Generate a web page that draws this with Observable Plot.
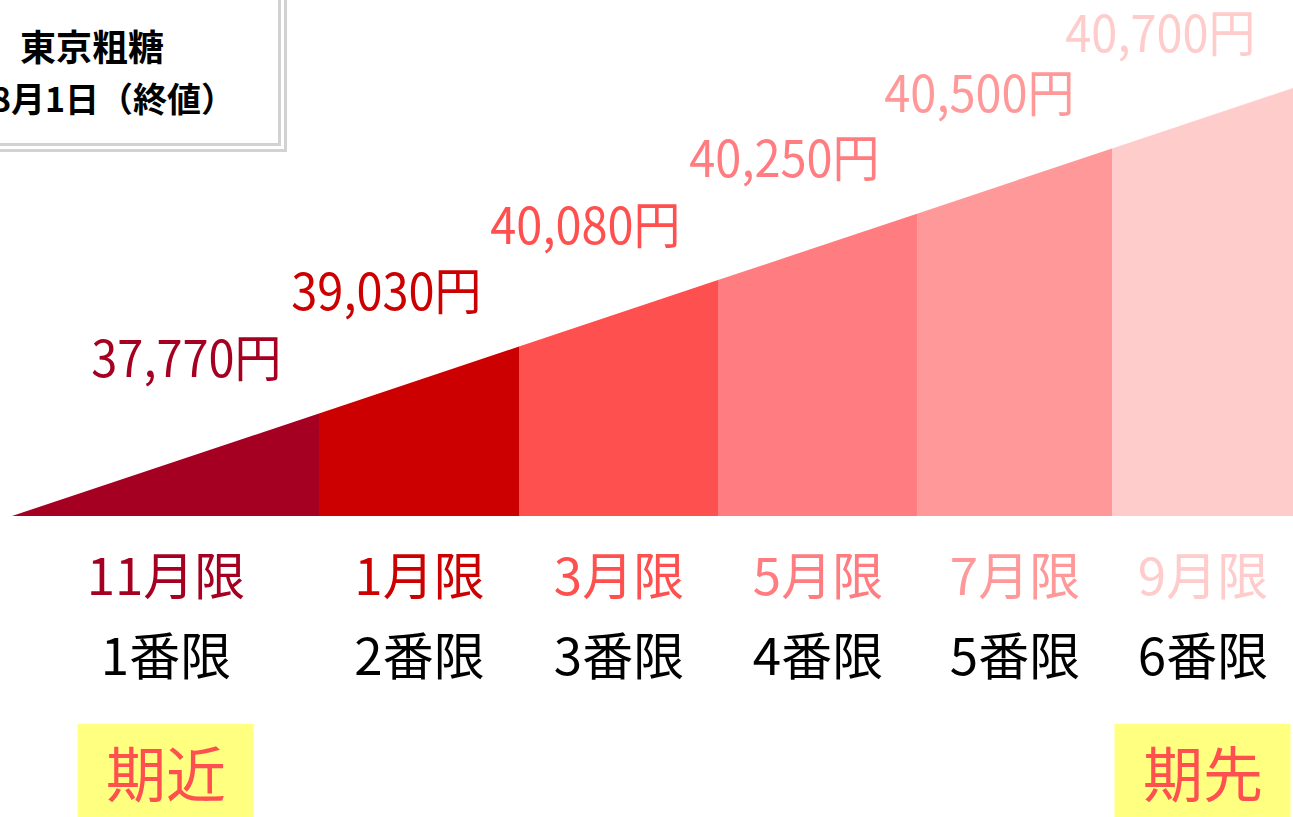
<!DOCTYPE html>
<html>
<head>
<meta charset="utf-8">
<script src="https://cdn.jsdelivr.net/npm/d3@7"></script>
<script src="https://cdn.jsdelivr.net/npm/@observablehq/plot@0.6"></script>
<style>
  html, body { margin: 0; padding: 0; background: #fff; overflow: hidden; }
  #wrap { position: relative; width: 1293px; height: 817px; }
  #box {
    position: absolute; left: -40px; top: -20px; width: 327px; height: 172px;
    border: 9px double #d2d2d2; background: #fff; box-sizing: border-box;
    font-family: "Noto Sans CJK JP", sans-serif; font-weight: 700; color: #000;
  }
  #box div { position: absolute; left: 0; width: 246px; text-align: center; line-height: 1; white-space: nowrap; }
</style>
</head>
<body>
<div id="wrap"></div>
<script>
// ---- data ----
const title1 = "東京粗糖";
const title2 = "8月1日（終値）";
const months = ["11月限", "1月限", "3月限", "5月限", "7月限", "9月限"];
const bans = ["1番限", "2番限", "3番限", "4番限", "5番限", "6番限"];
const prices = [37770, 39030, 40080, 40250, 40500, 40700];
const tags = ["期近", "期先"];

// ---- styles / layout ----
const colors = ["#a50021", "#cc0000", "#ff5050", "#ff7c80", "#ff9999", "#ffcccc"];
const spans = [1.535, 1.0, 0.995, 0.995, 0.975, 0.905]; // relative segment widths
const cjkFont = "'Noto Sans CJK JP', sans-serif";

let acc = 0;
const rows = months.map((m, i) => {
  const x0 = acc; acc += spans[i];
  return {i, month: m, ban: bans[i], price: prices[i], x0, x1: acc, mid: (x0 + acc) / 2, color: colors[i]};
});
const total = acc;
const wedge = rows.flatMap(r => [{i: r.i, color: r.color, x: r.x0}, {i: r.i, color: r.color, x: r.x1}]);
const tagRows = [{...rows[0], tag: tags[0]}, {...rows[rows.length - 1], tag: tags[1]}];

const chart = Plot.plot({
  width: 1293,
  height: 817,
  marginLeft: 12,
  marginRight: 0,
  marginTop: 88,
  marginBottom: 301,
  x: {domain: [0, total], axis: null},
  y: {domain: [0, total], axis: null},
  color: {type: "identity"},
  marks: [
    Plot.areaY(wedge, {x: "x", y1: 0, y2: "x", z: "i", fill: "color"}),
    Plot.text(rows, {
      x: "x1", y: "x1", text: d => d3.format(",")(d.price) + "円",
      textAnchor: "end", dx: -38, dy: -53, fill: "color",
      fontSize: 51, fontFamily: cjkFont
    }),
    Plot.text(rows, {x: "mid", y: 0, dy: 62, text: "month", fill: "color", fontSize: 51, fontFamily: cjkFont}),
    Plot.text(rows, {x: "mid", y: 0, dy: 142, text: "ban", fill: "#000", fontSize: 51, fontFamily: cjkFont}),
    Plot.rect(tagRows, {x1: d => d.mid - 0.44, x2: d => d.mid + 0.44, y1: -3.11, y2: -4.6, fill: "#ffff80"}),
    Plot.text(tagRows, {x: "mid", y: 0, dy: 261, text: "tag", fill: "#ff5050", fontSize: 60, fontFamily: cjkFont})
  ],
  style: {overflow: "visible", background: "#fff"}
});

const wrap = document.getElementById("wrap");
wrap.appendChild(chart);

// narrow the price labels slightly, like the condensed digits of the original
const priceGroup = chart.querySelectorAll('g[aria-label="text"]')[0];
if (priceGroup) {
  priceGroup.querySelectorAll("text").forEach(t => {
    const w = t.getComputedTextLength();
    t.setAttribute("textLength", (w * 0.92).toFixed(1));
    t.setAttribute("lengthAdjust", "spacingAndGlyphs");
  });
}

const box = document.createElement("div");
box.id = "box";
box.innerHTML = `<div style="top:38px;font-size:36px">${title1}</div>` +
                `<div style="top:92px;left:21px;font-size:34px">${title2}</div>`;
wrap.appendChild(box);
</script>
</body>
</html>
